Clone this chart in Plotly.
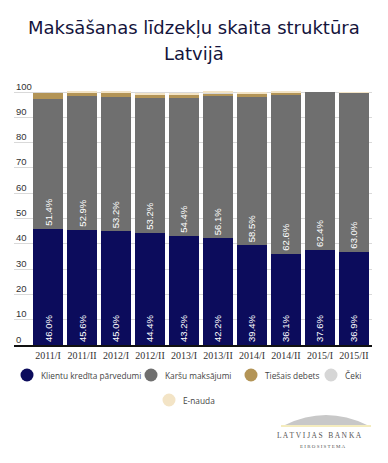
import plotly.graph_objects as go

categories = ["2011/I", "2011/II", "2012/I", "2012/II", "2013/I", "2013/II", "2014/I", "2014/II", "2015/I", "2015/II"]
klientu = [46.0, 45.6, 45.0, 44.4, 43.2, 42.2, 39.4, 36.1, 37.6, 36.9]
karsu = [51.4, 52.9, 53.2, 53.2, 54.4, 56.1, 58.5, 62.6, 62.4, 63.0]
tiesais = [2.5, 1.4, 1.5, 1.3, 1.3, 1.3, 1.6, 1.2, 0.0, 0.0]
ceki = [0.1, 0.05, 0.05, 0.05, 0.05, 0.05, 0.05, 0.05, 0.0, 0.05]
enauda = [0.0, 0.15, 0.3, 0.4, 0.4, 0.4, 0.4, 0.1, 0.0, 0.05]
y_ticks = [0, 10, 20, 30, 40, 50, 60, 70, 80, 90, 100]

names = ["Klientu kredīta pārvedumi", "Karšu maksājumi", "Tiešais debets", "Čeki", "E-nauda"]
colors = ["#0c0c5c", "#6f6f6f", "#b39456", "#d6d6d6", "#f3e4c6"]
series = [klientu, karsu, tiesais, ceki, enauda]

W, H = 388, 463
L, R, T, B = 14, 16, 90, 118
PW, PH = W - L - R, H - T - B

def px(x):
    return (x - L) / PW

def py(y):
    return (H - B - y) / PH

fig = go.Figure()
for i, (nm, col, vals) in enumerate(zip(names, colors, series)):
    show_text = i < 2
    fig.add_trace(go.Bar(
        x=categories, y=vals, name=nm, marker=dict(color=col, line=dict(width=0)),
        text=[f"{v:.1f}%" for v in vals] if show_text else None,
        texttemplate="%{text}" if show_text else None,
        textposition="inside" if show_text else "none",
        insidetextanchor="start", textangle=-90,
        textfont=dict(color="white", size=9.5, family="Liberation Sans"),
        showlegend=False, hoverinfo="skip",
    ))

fig.update_layout(
    width=W, height=H,
    margin=dict(l=L, r=R, t=T, b=B, autoexpand=False),
    barmode="stack", bargap=0.12,
    plot_bgcolor="white", paper_bgcolor="white",
    showlegend=False,
    xaxis=dict(range=[-1.0, 9.53], showline=True, linecolor="#111111", linewidth=2,
               tickfont=dict(family="Liberation Serif", size=10, color="#333333"),
               ticks="", showgrid=False),
    yaxis=dict(range=[0, 100.8], tickvals=y_ticks, showgrid=True, gridcolor="#d9d9d9",
               showticklabels=False, zeroline=False),
)

# Title
title_x = px(W / 2)
fig.add_annotation(xref="paper", yref="paper", x=title_x, y=py(28),
                   text="Maksāšanas līdzekļu skaita struktūra", showarrow=False,
                   font=dict(family="DejaVu Sans", size=18, color="#14143c"),
                   xanchor="center", yanchor="middle")
fig.add_annotation(xref="paper", yref="paper", x=title_x, y=py(53),
                   text="Latvijā", showarrow=False,
                   font=dict(family="DejaVu Sans", size=18, color="#14143c"),
                   xanchor="center", yanchor="middle")

# Y tick labels (above gridlines, left aligned)
for v in y_ticks:
    fig.add_annotation(xref="paper", yref="y", x=0, y=v, yshift=6, text=str(v), showarrow=False,
                       font=dict(family="Liberation Sans", size=9.5, color="#333333"),
                       xanchor="left", yanchor="middle")

# Custom legend with circle markers
legend_rows = [(375, [27, 151, 251, 331]), (400, [169])]
k = 0
for ry, xs in legend_rows:
    for cx in xs:
        fig.add_shape(type="circle", xref="paper", yref="paper", xsizemode="pixel", ysizemode="pixel",
                      xanchor=px(cx), yanchor=py(ry), x0=-6.5, x1=6.5, y0=-6.5, y1=6.5,
                      fillcolor=colors[k], line=dict(width=0))
        fig.add_annotation(xref="paper", yref="paper", x=px(cx + 12), y=py(ry), text=names[k],
                           showarrow=False, font=dict(family="Open Sans", size=8.3, color="#444444"),
                           xanchor="left", yanchor="middle")
        k += 1

# Logo
x0, x1, yb, yt = 285, 367, 425, 405
fig.add_shape(type="path", xref="paper", yref="paper",
              path=f"M {px(x0)},{py(yb)} Q {px((x0 + x1) / 2)},{py(yt)} {px(x1)},{py(yb)} Z",
              fillcolor="#c8c8c8", line=dict(width=0))
fig.add_shape(type="line", xref="paper", yref="paper",
              x0=px(x0 - 4), x1=px(x1 + 4), y0=py(426), y1=py(426),
              line=dict(color="#f0e6a8", width=1.5))
fig.add_annotation(xref="paper", yref="paper", x=px(319), y=py(435), text="L A T V I J A S   B A N K A",
                   showarrow=False, font=dict(family="Liberation Serif", size=7.5, color="#555555"),
                   xanchor="center", yanchor="middle")
fig.add_annotation(xref="paper", yref="paper", x=px(322), y=py(446), text="E I R O S I S T Ē M A",
                   showarrow=False, font=dict(family="Liberation Serif", size=5, color="#555555"),
                   xanchor="center", yanchor="middle")

fig.write_html("out.html", post_script="document.body.style.margin='0';",
               config={"displayModeBar": False})
